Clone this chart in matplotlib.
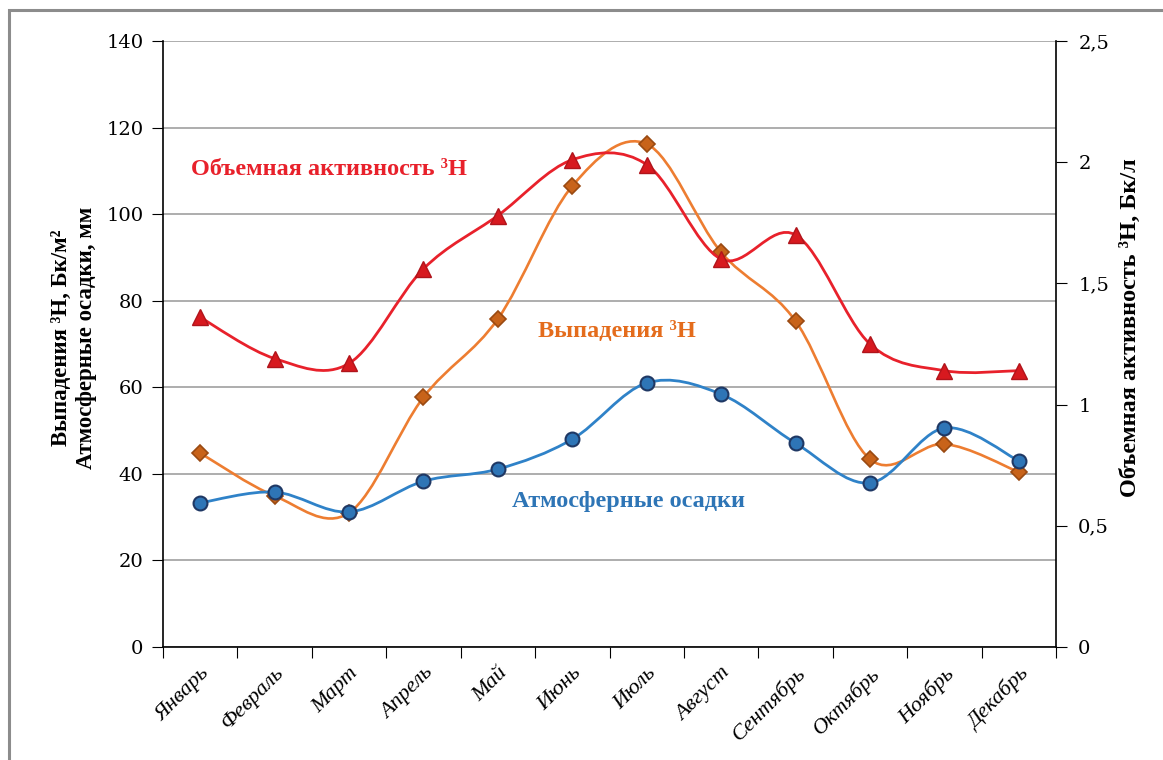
import numpy as np
import matplotlib
matplotlib.use('Agg')
import matplotlib.pyplot as plt
from matplotlib.path import Path
from matplotlib.patches import PathPatch, Rectangle


# Data
months = ['Январь', 'Февраль', 'Март', 'Апрель', 'Май', 'Июнь',
          'Июль', 'Август', 'Сентябрь', 'Октябрь', 'Ноябрь', 'Декабрь']
activity = [1.36, 1.19, 1.17, 1.56, 1.78, 2.01, 1.99, 1.60, 1.70, 1.25, 1.14, 1.14]  # Бк/л, right axis
fallout = [44.8, 34.9, 31.0, 57.7, 75.8, 106.5, 116.2, 91.2, 75.3, 43.4, 46.9, 40.4]  # Бк/м2
precip = [33.3, 35.8, 31.2, 38.3, 41.1, 48.0, 61.0, 58.4, 47.1, 37.9, 50.6, 43.0]  # мм
leftTicks = [0, 20, 40, 60, 80, 100, 120, 140]
rightTicks = [0, 0.5, 1, 1.5, 2, 2.5]
rightTickLabels = ['0', '0,5', '1', '1,5', '2', '2,5']


# Smoothed line like the spreadsheet one (Catmull-Rom as cubic Bezier)
def smoothPath(xs, ys):
    pts = np.column_stack([xs, ys]).astype(float)
    n = len(pts)
    verts = [pts[0]]
    codes = [Path.MOVETO]
    for i in range(n - 1):
        p0 = pts[max(i - 1, 0)]
        p1 = pts[i]
        p2 = pts[i + 1]
        p3 = pts[min(i + 2, n - 1)]
        verts += [p1 + (p2 - p0) / 6, p2 - (p3 - p1) / 6, p2]
        codes += [Path.CURVE4] * 3
    return Path(verts, codes)


serif = ['Liberation Serif', 'DejaVu Serif']
numFont = 'DejaVu Serif'

fig = plt.figure(figsize=(11.63, 7.6), dpi=100)
ax = fig.add_axes([163 / 1163, 1 - 647 / 760, (1056 - 163) / 1163, (647 - 41) / 760])
ax2 = ax.twinx()

x = np.arange(len(months))

# Left axis series
ax.add_patch(PathPatch(smoothPath(x, fallout), fill=False, edgecolor='#ED7D31', lw=1.9, zorder=3))
ax.plot(x, fallout, linestyle='none', marker='D', markersize=8, markerfacecolor='#C8631A',
        markeredgecolor='#9A4A12', markeredgewidth=1.2, zorder=4)
ax.add_patch(PathPatch(smoothPath(x, precip), fill=False, edgecolor='#2F82C8', lw=2.0, zorder=5))
ax.plot(x, precip, linestyle='none', marker='o', markersize=10, markerfacecolor='#2E75B6',
        markeredgecolor='#1F3864', markeredgewidth=1.5, zorder=6)

# Right axis series
ax2.add_patch(PathPatch(smoothPath(x, activity), fill=False, edgecolor='#E8212B', lw=2.0, zorder=3))
ax2.plot(x, activity, linestyle='none', marker='^', markersize=11, markerfacecolor='#D7191F',
         markeredgecolor='#B0141B', markeredgewidth=1.0, zorder=4)

ax.set_xlim(-0.5, len(months) - 0.5)
ax.set_ylim(0, 140)
ax2.set_ylim(0, 2.5)

ax.set_yticks(leftTicks)
ax.set_yticklabels([str(t) for t in leftTicks], fontfamily=numFont, fontsize=14)
ax2.set_yticks(rightTicks)
ax2.set_yticklabels(rightTickLabels, fontfamily=numFont, fontsize=14)

ax.set_xticks(np.arange(-0.5, len(months), 1.0))
ax.set_xticklabels([])
ax.set_xticks(x, minor=True)
ax.set_xticklabels(months, minor=True, rotation=45, ha='right', va='top', rotation_mode='anchor',
                   fontfamily=serif, fontstyle='italic', fontsize=16)
ax.tick_params(axis='x', which='major', length=8, direction='out', color='black')
ax.tick_params(axis='x', which='minor', length=0, pad=12)
ax.tick_params(axis='y', length=8, direction='out', pad=6)
ax2.tick_params(axis='y', length=8, direction='out', pad=8)

ax.grid(axis='y', color='#A0A0A0', lw=1.2)
ax.set_axisbelow(True)
for a in (ax, ax2):
    a.spines['top'].set_visible(False)
    for s in ('left', 'right', 'bottom'):
        a.spines[s].set_color('black')
        a.spines[s].set_linewidth(1.2)
ax.spines['right'].set_visible(False)
ax2.spines['left'].set_visible(False)
ax2.spines['bottom'].set_visible(False)

# In-plot labels
ax.text(-0.12, 110.2, 'Объемная активность ³H', color='#E8212B', fontfamily=serif,
        fontweight='bold', fontsize=17.5, ha='left', va='center')
ax.text(4.54, 73.0, 'Выпадения ³H', color='#E46C1C', fontfamily=serif,
        fontweight='bold', fontsize=17.5, ha='left', va='center')
ax.text(4.19, 33.5, 'Атмосферные осадки', color='#2E75B6', fontfamily=serif,
        fontweight='bold', fontsize=17.5, ha='left', va='center')

# Axis titles
fig.text(74 / 1163, 1 - 338 / 760, 'Выпадения ³H, Бк/м²\nАтмосферные осадки, мм',
         rotation=90, ha='center', va='center', multialignment='center',
         fontfamily=serif, fontweight='bold', fontsize=16.5, linespacing=1.2)
fig.text(1130 / 1163, 1 - 328 / 760, 'Объемная активность ³H, Бк/л',
         rotation=90, ha='center', va='center',
         fontfamily=serif, fontweight='bold', fontsize=17.5)

# Outer frame (only left and top edges fall inside the picture)
fig.add_artist(Rectangle((9 / 1163, -0.05), 1.2, 1.05 - 10 / 760, fill=False,
                         edgecolor='#8C8C8C', lw=2.2, transform=fig.transFigure, clip_on=False))

fig.savefig('out.png', dpi=100)
